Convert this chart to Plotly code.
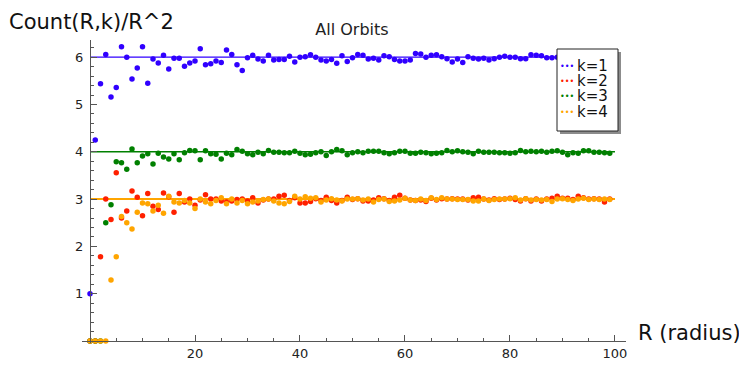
import plotly.graph_objects as go

radius = list(range(100))

k1 = [1.0, 4.25, 5.44, 6.06, 5.16, 5.36, 6.22, 6.0, 5.54, 5.77,
      6.22, 5.45, 5.96, 5.88, 6.04, 5.75, 5.98, 5.98, 5.81, 5.88,
      5.92, 6.18, 5.84, 5.86, 5.92, 5.89, 6.15, 6.06, 5.84, 5.72,
      5.99, 6.04, 5.96, 5.92, 6.04, 5.94, 5.95, 5.95, 6.02, 5.9,
      6.0, 6.01, 6.05, 6.0, 5.94, 5.92, 5.95, 5.87, 6.03, 5.91,
      5.99, 6.06, 6.04, 5.96, 5.98, 5.94, 6.03, 6.01, 5.95, 5.92,
      5.92, 5.94, 6.08, 6.07, 6.0, 6.04, 6.05, 6.01, 5.97, 5.9,
      5.96, 5.89, 6.01, 5.98, 5.96, 5.98, 5.94, 5.97, 6.0, 6.02,
      6.0, 6.0, 5.97, 5.97, 6.05, 6.04, 6.03, 5.99, 5.99, 6.0,
      5.98, 6.01, 5.98, 6.02, 5.99, 6.0, 5.99, 6.01, 5.99, 6.0]

k2 = [0, 0, 1.78, 3.0, 2.57, 3.56, 2.6, 2.75, 3.17, 3.04,
      2.65, 3.12, 2.85, 2.78, 3.13, 3.05, 2.72, 3.12, 2.94, 3.0,
      2.87, 2.98, 3.09, 3.0, 3.0, 2.96, 2.94, 2.96, 2.99, 3.0,
      2.96, 3.03, 2.92, 2.98, 3.0, 3.0, 3.06, 3.08, 2.97, 3.03,
      2.92, 2.92, 2.95, 3.01, 2.97, 3.04, 2.97, 2.92, 2.97, 3.04,
      2.99, 3.01, 2.96, 2.96, 2.98, 3.03, 3.01, 2.97, 3.04, 3.08,
      3.02, 2.98, 2.97, 2.98, 2.95, 3.02, 2.98, 3.01, 3.0, 3.01,
      3.0, 3.0, 2.98, 3.03, 3.04, 3.0, 2.98, 3.01, 2.99, 3.0,
      3.02, 2.99, 2.96, 3.01, 2.96, 3.0, 2.96, 3.0, 3.02, 3.06,
      3.02, 3.02, 2.99, 3.06, 3.03, 3.0, 3.01, 3.0, 2.94, 3.0]

k3 = [0, 0, 0, 2.5, 2.88, 3.79, 3.77, 3.63, 4.06, 3.77,
      3.91, 3.96, 3.74, 3.97, 3.89, 3.85, 3.96, 3.83, 3.98, 4.03,
      4.02, 3.83, 4.02, 3.96, 3.95, 3.85, 3.97, 3.94, 4.05, 4.01,
      3.96, 3.94, 3.99, 3.96, 4.03, 3.99, 3.99, 3.98, 3.98, 4.01,
      3.97, 3.94, 3.95, 3.98, 4.0, 3.92, 4.0, 4.05, 4.02, 3.94,
      3.98, 4.0, 3.98, 4.01, 4.01, 4.01, 3.98, 3.96, 3.98, 4.01,
      4.01, 3.97, 3.97, 3.99, 3.98, 3.96, 3.97, 3.98, 4.03, 4.0,
      4.02, 4.0, 3.99, 3.96, 4.01, 3.99, 3.99, 3.99, 3.98, 3.98,
      3.97, 3.98, 4.03, 4.0, 4.01, 4.0, 4.01, 3.99, 4.01, 4.02,
      3.99, 3.94, 3.98, 3.97, 4.02, 4.02, 3.99, 3.99, 3.98, 3.97]

k4 = [0, 0, 0, 0, 1.29, 1.78, 2.63, 2.5, 2.37, 2.72,
      2.92, 2.9, 2.75, 2.87, 2.7, 3.06, 2.94, 2.92, 2.97, 2.92,
      2.8, 3.0, 2.94, 2.9, 2.97, 3.03, 2.9, 3.0, 2.92, 2.97,
      2.9, 2.94, 2.96, 2.99, 3.0, 2.96, 2.92, 2.9, 2.95, 3.06,
      3.0, 3.05, 3.02, 3.03, 2.94, 2.98, 3.01, 2.98, 2.96, 3.0,
      3.0, 3.01, 2.98, 3.0, 2.94, 2.99, 3.0, 2.95, 2.96, 2.98,
      3.02, 2.98, 2.97, 3.0, 2.97, 3.03, 2.99, 3.03, 3.0, 3.0,
      2.99, 2.99, 2.99, 2.96, 2.96, 3.0, 2.97, 2.99, 3.0, 3.0,
      3.01, 3.03, 2.98, 3.01, 2.98, 2.99, 2.98, 2.99, 2.95, 3.0,
      3.01, 2.99, 2.97, 3.0, 3.02, 2.99, 3.0, 2.99, 3.0, 2.99]

names = ['k=1', 'k=2', 'k=3', 'k=4']
limits = [6, 3, 4, 3]
colors = ['#3000ff', '#ff2000', '#008000', '#ffa500']
series = [k1, k2, k3, k4]

fig = go.Figure()

# limit lines
for lim, c, w in zip(limits, colors, [1.2, 1.5, 1.5, 2]):
    fig.add_trace(go.Scatter(x=[0, 100], y=[lim, lim], mode='lines',
                             line=dict(color=c, width=w), showlegend=False,
                             hoverinfo='skip'))

for ys, c, name in zip(series, colors, names):
    fig.add_trace(go.Scatter(x=radius, y=ys, mode='markers', name=name,
                             marker=dict(color=c, size=5.5), showlegend=False,
                             cliponaxis=False))

# page is offset 8px by the body margin, so the figure is 8px smaller
W, H = 739, 370
L, R, T, B = 74, 121, 32, 35
pw, ph = W - L - R, H - T - B


def px(x):  # page pixel -> paper x
    return (x - 8 - L) / pw


def py(y):  # page pixel -> paper y
    return (H - B + 8 - y) / ph


# legend box with shadow, Sage style
shapes = [
    dict(type='rect', xref='paper', yref='paper', x0=px(560), x1=px(621), y0=py(134), y1=py(52),
         fillcolor='#8c8c8c', line=dict(width=0), layer='above'),
    dict(type='rect', xref='paper', yref='paper', x0=px(557), x1=px(618), y0=py(131), y1=py(49),
         fillcolor='white', line=dict(color='#222', width=1), layer='above'),
]

annotations = [
    dict(text='Count(R,k)/R^2', xref='paper', yref='paper', x=px(7), y=py(8),
         xanchor='left', yanchor='top', showarrow=False, font=dict(size=21, color='#111')),
    dict(text='R (radius)', xref='paper', yref='paper', x=px(636), y=py(333),
         xanchor='left', yanchor='middle', showarrow=False, font=dict(size=21, color='#111')),
]
row_y = [65.7, 81.0, 96.3, 111.6]
for name, c, ry in zip(names, colors, row_y):
    annotations.append(dict(text='•••', xref='paper', yref='paper', x=px(566.5), y=py(ry + 0.5),
                            xanchor='center', yanchor='middle', showarrow=False, borderpad=0,
                            font=dict(size=8, color=c)))
    annotations.append(dict(text=name, xref='paper', yref='paper', x=px(576), y=py(ry),
                            xanchor='left', yanchor='middle', showarrow=False, borderpad=0,
                            font=dict(size=15, color='#111')))

fig.update_layout(
    width=W, height=H,
    margin=dict(l=L, r=R, t=T, b=B),
    plot_bgcolor='white', paper_bgcolor='white',
    showlegend=False,
    font=dict(family='DejaVu Sans', color='#222'),
    title=dict(text='All Orbits', x=px(352), xref='paper', y=1 - 21 / H,
               xanchor='center', yanchor='middle', font=dict(size=16, color='#222')),
    xaxis=dict(range=[-1.524, 102.1], anchor='free', position=0.0066,
               showline=True, linecolor='#555', linewidth=1, showgrid=False,
               zeroline=False, tickvals=[20, 40, 60, 80, 100], ticks='inside',
               ticklen=6, tickcolor='#555', tickfont=dict(size=13),
               minor=dict(dtick=5, tick0=0, ticks='inside', ticklen=3, tickcolor='#555')),
    yaxis=dict(range=[-0.042, 6.364], anchor='free', position=0.0147,
               showline=True, linecolor='#555', linewidth=1, showgrid=False,
               zeroline=False, tickvals=[1, 2, 3, 4, 5, 6], ticks='inside',
               ticklen=6, tickcolor='#555', tickfont=dict(size=13), ticklabelstandoff=4,
               minor=dict(dtick=0.2, tick0=0, ticks='inside', ticklen=3, tickcolor='#555')),
    shapes=shapes,
    annotations=annotations,
)

fig.write_html("out.html")
